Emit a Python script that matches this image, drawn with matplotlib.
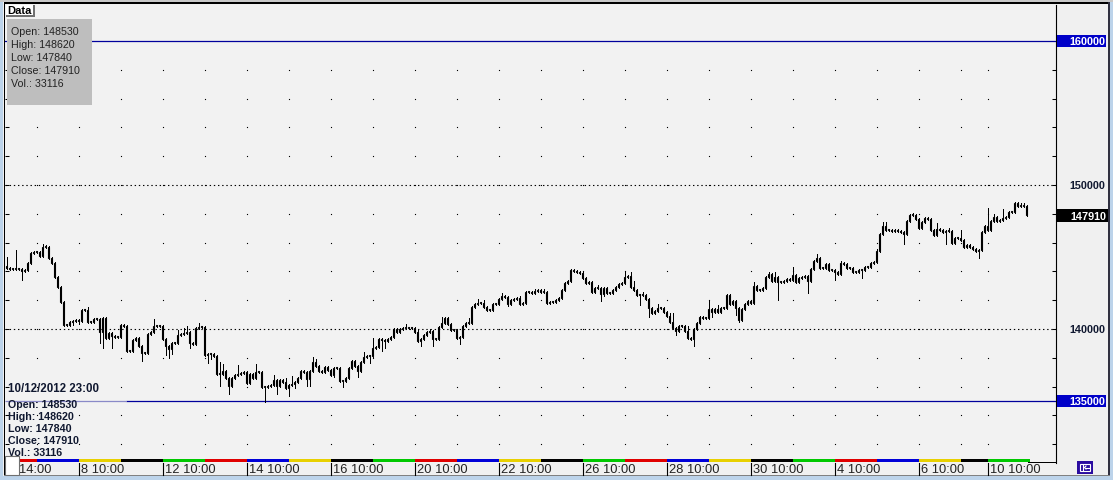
import matplotlib
matplotlib.use("Agg")
import matplotlib.pyplot as plt
from matplotlib.patches import Rectangle
from matplotlib.transforms import blended_transform_factory as blend

plt.rcParams['font.family'] = ['Liberation Sans', 'DejaVu Sans']

first_open = 144380
closes_a = [144240,144170,144170,144170,144170,144030,144100,144580,145280,145350,145350,145070,145690,145690,144930,144580,
 143610,142920,141880,140280,140280,140490,140560,140630,140560,141320,141320,140490,140490,140690,140690,139790,
 140760,139380,139720,139510,139440,139440,140280,140210,138470,138470,139240,139380,138820,138330,138330,139650,139790,
 140210,140210,140210,139310,138820,138610,139030,139030,139580,139650,139720,139790,139030,138960,140070,140140,140140,
 138190,138260,138260,138130,136880,136880,137080,136600,136040,136600,136810,136880,136940,137010,136250,136880,136600,
 137010,137010,135970,135970,136040,136110,136460,136040,136460]
closes_b = [136320,135900,136110,136180,136320,136600,137080,137010,136530,137080,137710,137430,137080,137010,137360,137150,
 136810,137290,137290,136390,136390,136600,137290,137780,137430,137080,137710,138060,138130,138130,138680,138750,139310,
 139240,139170,139310,139440,140000,139790,140000,140070,140070,140070,140070,139790,139170,139310,139580,139790,139860,
 139310,139310,140140,140420,140760,140350,139930,139930,139380,139440,140210,140420,140420,141530,141740,141810,141810,
 141530,141320,141320,141740,141740,142080,142290,142220,141740,142010,142080,142150,141740,141810,142570,142570,142500,
 142640,142710,142570,142570,141810,141880,141880,142010,142150,142710,143190,143330,144100,144030,143960,143890]
closes_c = [143540,143190,143260,142570,142850,142850,142430,142850,142500,142500,142710,142920,143130,143190,143610,143680,
 142920,142710,142360,142360,142360,142080,141460,141110,141250,141460,141460,141180,140900,140490,140070,139860,140210,
 140210,139860,139380,139310,140000,140420,140830,140760,140760,141390,141180,141390,141180,141460,141460,142360,141740,
 141940,141460,140630,141390,141740,141940,141810,142990,142710,142710,142850,143610,143820,143330,143610,143260,143260,
 143330,143470,143400,143750,143260,143540,143610,143680,143330,144170,144720,144930,144240,144240,144510,144100,144100,
 143960,143820,144580,144510,144240,144240,143960,143960,144100,144100,144310,144310,144580,144650,145420,146600,147150]
closes_d = [146880,146880,146810,146880,146810,146740,146600,147500,147920,147920,147640,147010,147430,147710,147640,146880,
 146530,146940,146880,146740,146810,146810,145970,146320,146320,146180,145690,145830,145690,145560,145420,145490,146740,
 147150,146880,147500,147780,147500,147570,147710,147780,148130,148130,148750,148540,148540,148540,147910]
closes = closes_a + closes_b + closes_c + closes_d

up_idx = [0,3,8,12,13,25,27,38,49,57,59,60,64,71,72,77,83,89,93,95,97,102,103,115,119,122,133,137,141,145,147,154,157,159,165,171,176,179,
 197,206,208,209,212,217,221,222,224,227,234,237,241,242,249,254,256,262,263,270,278,290,292,293,301,302,306,310,314,318,327,329,332,336,338,339,340]
up_px = [145000,145500,145150,145900,145800,141400,141550,140100,140700,139930,140070,140210,140420,137700,137550,137500,137600,136800,136600,136750,136600,138060,137900,137700,138410,139380,140350,140000,140000,140830,140830,140760,142080,142000,142500,142290,142780,142780,
 143050,144030,143960,143330,142570,141740,141110,141110,140210,140210,142010,141670,142430,142010,143260,143960,143960,144310,143750,145210,144720,145560,147430,147430,147990,148060,147780,147360,147010,146880,148400,147990,148330,148750,148750,148750,148620]
down_idx = [5,22,24,31,32,35,45,53,54,55,61,67,68,71,74,75,86,90,94,96,100,101,109,112,117,118,121,125,126,138,142,151,167,
 198,199,211,214,223,229,235,243,244,247,257,267,276,285,299,313,324]
down_px = [143400,140280,140350,139030,138680,138680,137780,138200,137990,138250,138700,137640,137920,136050,135480,135970,134960,135480,135380,135900,136040,136040,136670,135970,136670,137150,137640,138500,138680,138800,138800,138960,141600,
 141940,142300,141700,140830,139580,138820,140830,141000,140490,142000,142000,142500,143400,143540,145900,145900,144900]

levels_dotted = [150000, 140000]
levels_solid = [160000, 135000]
grid_levels = list(range(132000, 160000, 2000))
grid_times = [10,24,38,52,66,80,94,108,122,136,150,164,178,192,206,220,234,248,262,276,290,304,318,327]
tick_times = [24,52,80,108,136,164,192,220,248,276,304,327]
tick_labels = ['8 10:00','12 10:00','14 10:00','16 10:00','20 10:00','22 10:00','26 10:00','28 10:00','30 10:00','4 10:00','6 10:00','10 10:00']
info_lines = ['Open: 148530','High: 148620','Low: 147840','Close: 147910','Vol.: 33116']
date_label = '10/12/2012 23:00'
last_close = 147910

W, H = 1113, 481
fig = plt.figure(figsize=(W/100, H/100), dpi=100, facecolor='#bcd3ea')

def px_axes(l, t, r, b, **kw):
    return fig.add_axes([l/W, 1-b/H, (r-l)/W, (b-t)/H], **kw)

ov = px_axes(0, 0, W, H, zorder=1)
ov.set_xlim(0, W); ov.set_ylim(H, 0); ov.axis('off')

def rect(x0, y0, x1, y1, fc, ec='none', lw=0, z=1, a=ov):
    a.add_patch(Rectangle((x0, y0), x1-x0, y1-y0, fc=fc, ec=ec, lw=lw, zorder=z))

rect(3, 3, 1109, 477, '#f0f0f0')
rect(0, 0, W, 3, '#c8c8c8')
rect(4, 3, 1109, 5, '#000000')
rect(4, 3, 5, 477, '#000000')
rect(1108, 3, 1110, 477, '#303040')
rect(4, 476, 1110, 477, '#808080')

ax = px_axes(5, 6, 1056, 464, zorder=2, facecolor='#f2f2f2')
for s in ['top', 'left', 'bottom']:
    ax.spines[s].set_visible(False)
ax.spines['right'].set_color('black'); ax.spines['right'].set_linewidth(0.8)
ax.set_xticks([])
ax.set_yticks(grid_levels)
ax.tick_params(axis='y', length=3, width=0.75, direction='in', left=True, right=True, labelleft=False, color='black')

for lv in grid_levels:
    ax.plot(grid_times, [lv]*len(grid_times), ls='none', marker='s', ms=0.8, mew=0, color='#000000', zorder=1)
for lv in levels_dotted:
    ax.axhline(lv, color='black', lw=0.8, dashes=(1.25, 2.5), zorder=1)
ax.plot([39.8, 349.83], [levels_solid[1]]*2, color='#00009c', lw=0.9, zorder=1, solid_capstyle='butt')
ax.plot([-0.5, 39.8], [levels_solid[1]]*2, color='#8a8ac8', lw=0.9, zorder=1, solid_capstyle='butt')
ax.axhline(levels_solid[0], color='#00009c', lw=0.9, zorder=1)

opens = [first_open] + closes[:-1]
xs = list(range(len(closes)))
highs = [max(o, c) + 70 for o, c in zip(opens, closes)]
lows = [min(o, c) - 70 for o, c in zip(opens, closes)]
for i, p in zip(up_idx, up_px):
    highs[i] = max(highs[i], p)
for i, p in zip(down_idx, down_px):
    lows[i] = min(lows[i], p)

ax.vlines(xs, lows, highs, color='black', lw=0.72, zorder=3, antialiased=False)
for x, o, c in zip(xs, opens, closes):
    fc = '#f2f2f2' if c >= o else '#3c3c3c'
    ax.add_patch(Rectangle((x-0.33, min(o, c)), 0.66, max(abs(c-o), 70), fc=fc, ec='black', lw=0.8, zorder=4, snap=True))
ax.set_xlim(-0.5, 349.83)
ax.set_ylim(130695, 162500)

edges = [4.33, 10, 24, 38, 52, 66, 80, 94, 108, 122, 136, 150, 164, 178, 192, 206, 220, 234, 248, 262, 276, 290, 304, 318, 327, 341]
strip = ['#e00000','#0000d8','#e8d000','#000000','#00c800','#e00000','#0000d8','#e8d000','#000000','#00c800','#e00000','#0000d8',
         '#e8d000','#000000','#00c800','#e00000','#0000d8','#e8d000','#000000','#00c800','#e00000','#0000d8','#e8d000','#000000','#00c800']
ov2 = px_axes(0, 0, W, H, zorder=5)
ov2.set_xlim(0, W); ov2.set_ylim(H, 0); ov2.axis('off'); ov2.patch.set_alpha(0)
trans = blend(ax.transData, ov2.transData)
for e0, e1, col in zip(edges[:-1], edges[1:], strip):
    ov2.add_patch(Rectangle((e0, 460), e1-e0, 3, fc=col, ec='none', transform=trans, zorder=3))
rect(1028, 463, 1057, 464, '#000000', z=3, a=ov2)

for t, lab in zip(tick_times, tick_labels):
    ov2.plot([t, t], [464, 476], color='black', lw=0.8, transform=trans, clip_on=False)
    ov2.text(t + 0.67, 470, lab, transform=trans, fontsize=9.3, color='#222222', ha='left', va='center')
ov2.text(19, 470, '14:00', fontsize=9.3, color='#222222', ha='left', va='center')
rect(5, 457, 19, 476, '#ffffff', ec='#707070', lw=0.8, z=4, a=ov2)

rect(6, 6, 35, 18, '#707070', z=4, a=ov2)
rect(6, 6, 33, 16, '#ffffff', z=5, a=ov2)
ov2.text(7, 11, 'Data', fontsize=8, fontweight='bold', color='black', va='center', zorder=6)
rect(7, 20, 92, 106, '#bebebe', z=4, a=ov2)
for y, s in zip([32, 45, 58, 71, 84], info_lines):
    ov2.text(11, y, s, fontsize=7.7, color='#222222', va='center', zorder=6)
ov2.text(8, 389, date_label, fontsize=8.3, fontweight='bold', color='#101830', va='center', zorder=6)
for y, s in zip([405, 417, 429, 441, 453], info_lines):
    ov2.text(8, y, s, fontsize=7.7, fontweight='bold', color='#101830', va='center', zorder=6)

ytrans = blend(ov2.transData, ax.transData)
for lv in levels_solid:
    ov2.add_patch(Rectangle((1057, lv-450), 49, 900, fc='#0000c8', ec='none', transform=ytrans, zorder=4))
    ov2.text(1105, lv, str(lv), transform=ytrans, fontsize=7.8, fontweight='bold', color='white', ha='right', va='center', zorder=6)
for lv in levels_dotted:
    ov2.text(1105, lv, str(lv), transform=ytrans, fontsize=7.8, fontweight='bold', color='#101830', ha='right', va='center', zorder=6)
ov2.add_patch(Rectangle((1057, last_close-480), 51, 900, fc='black', ec='none', transform=ytrans, zorder=4))
ov2.text(1106, last_close-30, str(last_close), transform=ytrans, fontsize=7.8, fontweight='bold', color='white', ha='right', va='center', zorder=6)

rect(1077, 462, 1093, 475, '#2a0ca0', z=4, a=ov2)
rect(1080, 465, 1090, 472, 'none', ec='white', lw=0.8, z=5, a=ov2)
ov2.plot([1082.5, 1082.5], [466, 471], color='white', lw=0.8, zorder=6)
ov2.plot([1084.5, 1088.5], [468.5, 468.5], color='white', lw=0.8, zorder=6)
ov2.plot([1086, 1084.5, 1086], [467, 468.5, 470], color='white', lw=0.8, zorder=6)

fig.savefig('out.png', dpi=100, facecolor=fig.get_facecolor())
